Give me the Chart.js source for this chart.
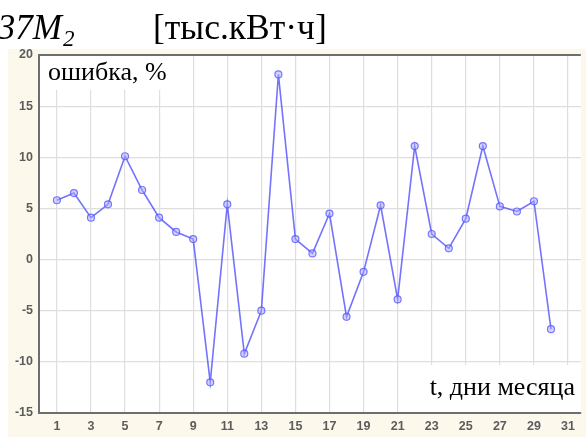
<!DOCTYPE html>
<html>
<head>
<meta charset="utf-8">
<script src="https://cdn.jsdelivr.net/npm/chart.js@4.4.1/dist/chart.umd.min.js"></script>
<style>
  html, body { margin: 0; padding: 0; background: #fff; }
  #wrap { width: 586px; height: 437px; }
</style>
</head>
<body>
<div id="wrap"><canvas id="chart" width="586" height="437"></canvas></div>
<script>
// days of the month and the forecast error, %
const days = [1, 2, 3, 4, 5, 6, 7, 8, 9, 10, 11, 12, 13, 14, 15,
              16, 17, 18, 19, 20, 21, 22, 23, 24, 25, 26, 27, 28, 29, 30];
const errors = [5.8, 6.5, 4.1, 5.4, 10.1, 6.8, 4.1, 2.7, 2.0, -12.0,
                5.4, -9.2, -5.0, 18.1, 2.0, 0.6, 4.5, -5.6, -1.2, 5.3,
                -3.9, 11.1, 2.5, 1.1, 4.0, 11.1, 5.2, 4.7, 5.7, -6.8];
const xTicks = [1, 3, 5, 7, 9, 11, 13, 15, 17, 19, 21, 23, 25, 27, 29, 31];
const yTicks = [-15, -10, -5, 0, 5, 10, 15, 20];

const titleMain = '37M';
const titleSub = '2';
const titleUnit = '[тыс.кВт·ч]';
const yLabel = 'ошибка, %';
const xLabel = 't, дни месяца';

const serif = '"Liberation Serif", "Times New Roman", serif';
const tickFont = { family: 'Arial, "Liberation Sans", sans-serif', size: 12.5, weight: 'bold' };

// frame, backgrounds and the text around the plot
const decor = {
  id: 'decor',
  beforeDraw(chart) {
    const { ctx, chartArea: a } = chart;
    ctx.save();
    ctx.fillStyle = '#fdf8ec';
    ctx.fillRect(8, 49, chart.width - 8, chart.height - 49);
    ctx.fillStyle = '#ffffff';
    ctx.fillRect(a.left, a.top, a.right - a.left, a.bottom - a.top);
    ctx.restore();
  },
  beforeDatasetsDraw(chart) {
    // white boxes under the in-plot labels hide the grid
    const { ctx, chartArea: a } = chart;
    ctx.save();
    ctx.fillStyle = '#fff';
    ctx.fillRect(a.left + 1, a.top, 124, 35);
    ctx.fillRect(430, 365, a.right - 430, a.bottom - 366);
    ctx.restore();
  },
  afterDatasetsDraw(chart) {
    const { ctx, chartArea: a } = chart;
    ctx.save();
    // top frame line
    ctx.strokeStyle = '#6e6e6e';
    ctx.lineWidth = 2;
    ctx.beginPath();
    ctx.moveTo(a.left, a.top);
    ctx.lineTo(a.right, a.top);
    ctx.stroke();

    // title
    ctx.fillStyle = '#000';
    ctx.textBaseline = 'alphabetic';
    ctx.font = 'italic 35px ' + serif;
    const w = ctx.measureText(titleMain).width;
    ctx.fillText(titleMain, 62 - w, 39);
    ctx.font = 'italic 23px ' + serif;
    ctx.fillText(titleSub, 63, 46);
    ctx.font = '35.5px ' + serif;
    ctx.fillText(titleUnit, 153, 39);

    // labels inside the plot
    ctx.font = '26px ' + serif;
    ctx.fillText(yLabel, 48, 80);
    const lw = ctx.measureText(xLabel).width;
    ctx.fillText(xLabel, 575 - lw, 395);
    ctx.restore();
  }
};

new Chart(document.getElementById('chart'), {
  type: 'line',
  data: {
    datasets: [{
      data: days.map((d, i) => ({ x: d, y: errors[i] })),
      borderColor: 'rgba(80, 80, 255, 0.8)',
      borderWidth: 1.6,
      pointRadius: 3.5,
      pointBorderWidth: 1.2,
      pointBorderColor: 'rgba(80, 80, 255, 0.75)',
      pointBackgroundColor: 'rgba(170, 170, 255, 0.5)',
      tension: 0,
      fill: false
    }]
  },
  options: {
    responsive: false,
    animation: false,
    layout: { padding: { top: 55, left: 0, right: 0, bottom: 0 } },
    plugins: {
      legend: { display: false },
      tooltip: { enabled: false }
    },
    scales: {
      x: {
        type: 'linear',
        min: -0.05,
        max: 31.75,
        afterBuildTicks: s => { s.ticks = xTicks.map(v => ({ value: v })); },
        afterFit: s => { s.height = 24; },
        grid: { color: '#dedede', lineWidth: 1.2, drawTicks: false },
        border: { color: '#6e6e6e', width: 2 },
        ticks: { padding: 6, color: '#5c5c5c', font: tickFont }
      },
      y: {
        min: -15,
        max: 20,
        afterBuildTicks: s => { s.ticks = yTicks.map(v => ({ value: v })); },
        afterFit: s => { s.width = 39; },
        grid: { color: '#dedede', lineWidth: 1.2, drawTicks: false },
        border: { color: '#6e6e6e', width: 2 },
        ticks: { padding: 6, color: '#5c5c5c', font: tickFont }
      }
    }
  },
  plugins: [decor]
});
</script>
</body>
</html>
